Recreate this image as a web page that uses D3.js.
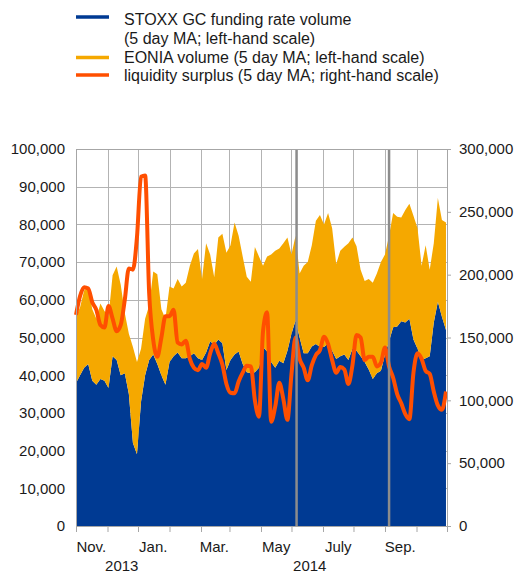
<!DOCTYPE html>
<html>
<head>
<meta charset="utf-8">
<script src="https://cdn.jsdelivr.net/npm/d3@7"></script>
<style>
  body { margin: 0; background: #fff; }
  svg { display: block; font-family: "Liberation Sans", Arial, sans-serif; }
  .axis path, .axis line { stroke: #a6a6a6; }
  .axis text { font-size: 15px; fill: #1a1a1a; }
</style>
</head>
<body>
<div id="chart"></div>
<script>
// four-day observation grid, 1 Oct 2013 to 30 Sep 2014
var obsDates = d3.timeDay.range(new Date(2013, 9, 1), new Date(2014, 9, 1), 4);

// STOXX GC funding rate volume (5 day MA; EUR millions)
var gcVolume = [
  37900, 40000, 42000, 43000, 38500, 37500, 39000, 38500, 36600, 45000,
  44000, 40000, 40500, 35000, 22000, 19000, 33000, 40000, 44000, 45500,
  43000, 40000, 37500, 43500, 45000, 46000, 44500, 44500, 45000, 45800,
  44500, 44000, 46000, 49000, 48000, 49500, 48500, 41400, 44000, 45500,
  46300, 43000, 40800, 40500, 40800, 42000, 47500, 46300, 43500, 42000,
  43800, 43200, 46500, 51000, 54500, 50000, 45800, 45800, 47600, 48300,
  47500, 47500, 48500, 46500, 44300, 45000, 45500, 44000, 47000, 46500,
  45000, 43500, 41500, 39000, 40500, 41200, 45500, 49000, 52700, 52900,
  54300, 54000, 55000, 49500, 47000, 44000, 44500, 45000, 54000, 59500,
  55500, 52000
];

// EONIA volume (5 day MA; EUR millions), stacked on top of GC volume
var eoniaVolume = [
  17600, 18000, 20500, 20500, 19000, 17500, 20000, 18500, 18900, 21500,
  24800, 24000, 16000, 16000, 25500, 24500, 14000, 15000, 14500, 22000,
  23800, 17500, 17500, 20000, 18000, 19500, 19000, 20000, 24000, 26500,
  29000, 21500, 29000, 23000, 18000, 27000, 29000, 31100, 30500, 35000,
  30700, 28500, 25300, 24300, 33200, 29500, 21500, 25200, 28500, 31000,
  29800, 31800, 30000, 21000, 22500, 17000, 23200, 24200, 26900, 32700,
  35000, 32500, 34500, 32500, 25200, 28000, 28600, 31000, 29500, 27700,
  23000, 21500, 24000, 25500, 26500, 28800, 26500, 28000, 30300, 29100,
  27500, 29800, 30500, 32800, 32000, 25000, 30000, 23000, 21000, 27500,
  25700, 28500
];

// liquidity surplus (5 day MA; EUR millions, right-hand scale)
var liquiditySurplus = [
  168000, 183000, 190000, 189000, 178000, 172000, 160000, 158000, 175000, 165000,
  155000, 160000, 180000, 205000, 204000, 230000, 278000, 279000, 185000, 148000,
  134700, 150000, 167000, 167000, 172000, 146000, 144500, 147500, 133000, 126000,
  124000, 129000, 126000, 137400, 145000, 137400, 128500, 113000, 106000, 105600,
  115000, 122000, 127500, 127000, 100000, 87000, 155000, 170000, 83000, 95000,
  114000, 101000, 84500, 121000, 150000, 133000, 126000, 116000, 128000, 136000,
  140000, 150600, 145000, 132000, 122000, 126500, 124500, 113000, 128000, 152000,
  150000, 132000, 134700, 134700, 127000, 130000, 142000, 127000, 118000, 105000,
  97600, 89000, 85000, 122000, 137400, 133000, 123500, 121000, 107000, 96000,
  92500, 107000
];

// vertical marker lines
var markerDates = [new Date(2014, 4, 6), new Date(2014, 7, 5)];

var monthLabels = ['Nov.', 'Jan.', 'Mar.', 'May', 'July', 'Sep.'];
var monthLabelDates = [new Date(2013, 9, 16), new Date(2013, 11, 16), new Date(2014, 1, 14),
                       new Date(2014, 3, 16), new Date(2014, 5, 16), new Date(2014, 7, 16)];
var yearLabels = ['2013', '2014'];
var yearLabelDates = [new Date(2013, 10, 15), new Date(2014, 4, 19)];

var legendItems = [
  { lines: ['STOXX GC funding rate volume', '(5 day MA; left-hand scale)'], color: '#003a93' },
  { lines: ['EONIA volume (5 day MA; left-hand scale)'], color: '#f5a800' },
  { lines: ['liquidity surplus (5 day MA; right-hand scale)'], color: '#ff4f00' }
];

var W = 517, H = 573;
var plotLeft = 76, plotRight = 447, plotTop = 149, plotBottom = 526;

var svg = d3.select('#chart').append('svg')
  .attr('width', W).attr('height', H);

var x = d3.scaleTime()
  .domain([new Date(2013, 9, 1), new Date(2014, 9, 1)])
  .range([plotLeft, plotRight]);
var yL = d3.scaleLinear().domain([0, 100000]).range([plotBottom, plotTop]);
var yR = d3.scaleLinear().domain([0, 300000]).range([plotBottom, plotTop]);

var rows = obsDates.map(function (d, i) {
  return { date: d, gc: gcVolume[i], eonia: eoniaVolume[i], liq: liquiditySurplus[i] };
});

// grid
var grid = svg.append('g').attr('stroke', '#b3b3b3').attr('stroke-width', 1);
grid.selectAll('line.h').data(d3.range(10000, 100001, 10000)).enter()
  .append('line')
  .attr('x1', plotLeft).attr('x2', plotRight)
  .attr('y1', function (d) { return Math.round(yL(d)) + 0.5; })
  .attr('y2', function (d) { return Math.round(yL(d)) + 0.5; });
grid.selectAll('line.v').data(d3.timeMonth.range(new Date(2013, 10, 1), new Date(2014, 9, 1))).enter()
  .append('line')
  .attr('y1', plotTop).attr('y2', plotBottom)
  .attr('x1', function (d) { return Math.round(x(d)) + 0.5; })
  .attr('x2', function (d) { return Math.round(x(d)) + 0.5; });

// stacked areas
var stack = d3.stack().keys(['gc', 'eonia']);
var series = stack(rows);
var area = d3.area()
  .x(function (d) { return x(d.data.date); })
  .y0(function (d) { return yL(d[0]); })
  .y1(function (d) { return yL(d[1]); });
var areaColors = { gc: '#003a93', eonia: '#f5a800' };
svg.append('g').selectAll('path').data(series).enter()
  .append('path')
  .attr('fill', function (s) { return areaColors[s.key]; })
  .attr('d', area);

// liquidity surplus line
var line = d3.line()
  .x(function (d) { return x(d.date); })
  .y(function (d) { return yR(d.liq); })
  .curve(d3.curveMonotoneX);
svg.append('path').datum(rows)
  .attr('fill', 'none')
  .attr('stroke', '#ff4f00')
  .attr('stroke-width', 4)
  .attr('stroke-linejoin', 'round')
  .attr('d', line);

// marker lines
svg.append('g').selectAll('line').data(markerDates).enter()
  .append('line')
  .attr('x1', function (d) { return x(d); }).attr('x2', function (d) { return x(d); })
  .attr('y1', plotTop).attr('y2', plotBottom)
  .attr('stroke', '#8c8c8c').attr('stroke-width', 2.5);

// axes
svg.append('g').attr('class', 'axis')
  .attr('transform', 'translate(' + plotLeft + ',0)')
  .call(d3.axisLeft(yL).tickValues(d3.range(0, 100001, 10000))
    .tickSize(0).tickPadding(11).tickFormat(d3.format(',')));

svg.append('g').attr('class', 'axis')
  .attr('transform', 'translate(' + plotRight + ',0)')
  .call(d3.axisRight(yR).tickValues(d3.range(0, 300001, 50000))
    .tickSize(4).tickPadding(8).tickFormat(d3.format(',')));

svg.append('g').attr('class', 'axis')
  .attr('transform', 'translate(0,' + plotBottom + ')')
  .call(d3.axisBottom(x).tickValues(d3.timeMonth.range(new Date(2013, 9, 1), new Date(2014, 8, 2)))
    .tickSize(6).tickFormat(''));

// top border
svg.append('line')
  .attr('x1', plotLeft).attr('x2', plotRight).attr('y1', plotTop + 0.5).attr('y2', plotTop + 0.5)
  .attr('stroke', '#a6a6a6');

svg.append('g').selectAll('text').data(monthLabels).enter()
  .append('text')
  .attr('x', function (d, i) { return x(monthLabelDates[i]); })
  .attr('y', 552)
  .attr('text-anchor', 'middle')
  .style('font-size', '15px').style('fill', '#1a1a1a')
  .text(function (d) { return d; });
svg.append('g').selectAll('text').data(yearLabels).enter()
  .append('text')
  .attr('x', function (d, i) { return x(yearLabelDates[i]); })
  .attr('y', 571)
  .attr('text-anchor', 'middle')
  .style('font-size', '15px').style('fill', '#1a1a1a')
  .text(function (d) { return d; });

// legend
var legendY = [17, 57.5, 75];
var legendBase = [[24.5, 43.5], [63], [80.5]];
var lg = svg.append('g');
legendItems.forEach(function (item, i) {
  lg.append('line')
    .attr('x1', 76).attr('x2', 109)
    .attr('y1', legendY[i]).attr('y2', legendY[i])
    .attr('stroke', item.color).attr('stroke-width', 3.5);
  item.lines.forEach(function (t, j) {
    lg.append('text')
      .attr('x', 124).attr('y', legendBase[i][j])
      .style('font-size', '16px').style('fill', '#1a1a1a')
      .text(t);
  });
});
</script>
</body>
</html>
